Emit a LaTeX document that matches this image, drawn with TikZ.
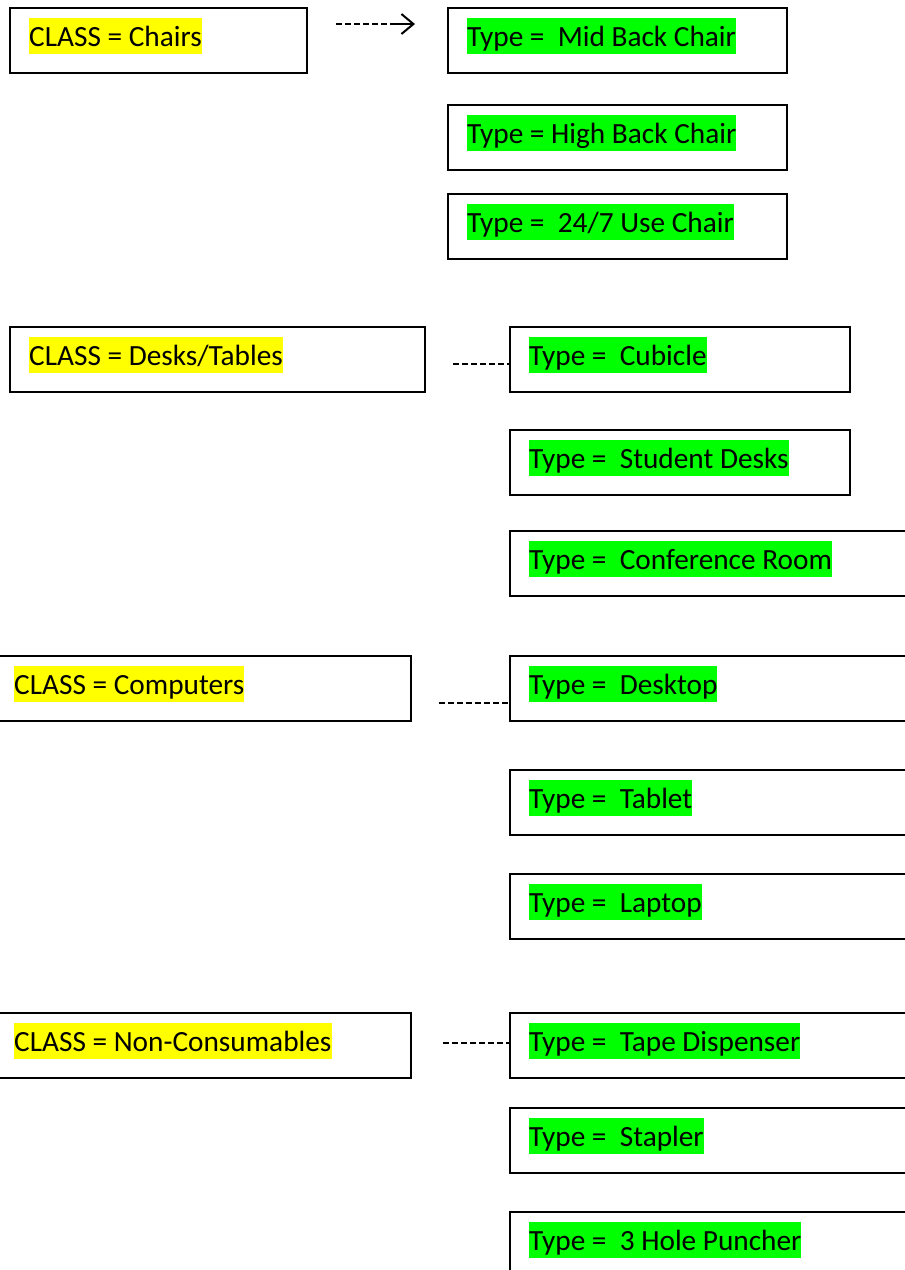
\documentclass[tikz,border=0pt]{standalone}
\usepackage{fontspec}
\setmainfont{Carlito}
\usetikzlibrary{arrows.meta, calc}

\definecolor{hlyellow}{RGB}{255,255,0}
\definecolor{hlgreen}{RGB}{0,255,0}

\begin{document}
\begin{tikzpicture}[x=1pt, y=-1pt,
    box/.style={draw, line width=2pt, anchor=north west, minimum height=65pt, inner sep=0pt},
    hltext/.style={anchor=north west, inner sep=0pt, text height=28pt, text depth=8pt,
        font=\fontsize{29.3}{35}\selectfont},
    hlclass/.style={hltext, fill=hlyellow},
    hltype/.style={hltext, fill=hlgreen},
    conn/.style={line width=1.3pt, dash pattern=on 6pt off 3pt}]
    \path[use as bounding box, clip] (0,0) rectangle (905,1270);

    % classes
    \node[box, minimum width=297pt] (chairs) at (9,7) {};
    \node[box, minimum width=415pt] (desks) at (9,326) {};
    \node[box, minimum width=416pt] (computers) at (-6,655) {};
    \node[box, minimum width=416pt] (noncons) at (-6,1012) {};

    \node[hlclass] (chairstxt) at ($(chairs.north west)+(20,11)$) {CLASS = Chairs};
    \node[hlclass] (deskstxt) at ($(desks.north west)+(20,11)$) {CLASS = Desks/Tables};
    \node[hlclass] (computerstxt) at ($(computers.north west)+(20,11)$) {CLASS = Computers};
    \node[hlclass] (noncanstxt) at ($(noncons.north west)+(20,11)$) {CLASS = Non-Consumables};

    % types
    \node[box, minimum width=339pt] (midback) at (447,7) {};
    \node[box, minimum width=339pt] (highback) at (447,104) {};
    \node[box, minimum width=339pt] (allday) at (447,193) {};
    \node[box, minimum width=340pt] (cubicle) at (509,326) {};
    \node[box, minimum width=340pt] (student) at (509,429) {};
    \node[box, minimum width=420pt] (conference) at (509,530) {};
    \node[box, minimum width=420pt] (desktop) at (509,655) {};
    \node[box, minimum width=420pt] (tablet) at (509,769) {};
    \node[box, minimum width=420pt] (laptop) at (509,873) {};
    \node[box, minimum width=420pt] (tape) at (509,1012) {};
    \node[box, minimum width=420pt] (stapler) at (509,1107) {};
    \node[box, minimum width=420pt] (puncher) at (509,1211) {};

    \node[hltype] (midbacktxt) at ($(midback.north west)+(20,11)$) {Type = \ Mid Back Chair};
    \node[hltype] (highbacktxt) at ($(highback.north west)+(20,11)$) {Type = High Back Chair};
    \node[hltype] (alldaytxt) at ($(allday.north west)+(20,11)$) {Type = \ 24/7 Use Chair};
    \node[hltype] (cubicletxt) at ($(cubicle.north west)+(20,11)$) {Type = \ Cubicle};
    \node[hltype] (studenttxt) at ($(student.north west)+(20,11)$) {Type = \ Student Desks};
    \node[hltype] (conferencetxt) at ($(conference.north west)+(20,11)$) {Type = \ Conference Room};
    \node[hltype] (desktoptxt) at ($(desktop.north west)+(20,11)$) {Type = \ Desktop};
    \node[hltype] (tablettxt) at ($(tablet.north west)+(20,11)$) {Type = \ Tablet};
    \node[hltype] (laptoptxt) at ($(laptop.north west)+(20,11)$) {Type = \ Laptop};
    \node[hltype] (tapetxt) at ($(tape.north west)+(20,11)$) {Type = \ Tape Dispenser};
    \node[hltype] (staplertxt) at ($(stapler.north west)+(20,11)$) {Type = \ Stapler};
    \node[hltype] (punchertxt) at ($(puncher.north west)+(20,11)$) {Type = \ 3 Hole Puncher};

    % connectors
    \coordinate (chairsfrom) at (336,24);
    \coordinate (chairsmid) at (390,24);
    \coordinate (chairsto) at (415,24);
    \coordinate (desksfrom) at (453,364);
    \coordinate (computersfrom) at (439,703);
    \coordinate (nonconsfrom) at (443,1043);

    \draw[conn] (chairsfrom) -- (chairsmid);
    \draw[line width=2pt, -{Straight Barb[length=12pt, width=20pt, line width=2pt]}] (chairsmid) -- (chairsto);
    \draw[conn] (desksfrom) -- (desksfrom -| cubicle.west);
    \draw[conn] (computersfrom) -- (computersfrom -| desktop.west);
    \draw[conn] (nonconsfrom) -- (nonconsfrom -| tape.west);
\end{tikzpicture}
\end{document}
